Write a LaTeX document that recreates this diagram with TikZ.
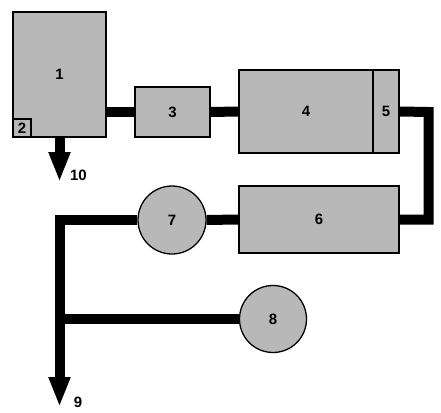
\documentclass[tikz,border=0pt]{standalone}
\usepackage{fontspec}
\setmainfont{Liberation Sans}
\usetikzlibrary{arrows.meta,backgrounds}
\begin{document}
\begin{tikzpicture}[x=1pt, y=-1pt, >={Triangle[length=30pt,width=20pt]},
	font=\fontsize{15}{17}\selectfont\bfseries, line join=miter,
	box/.style={draw, line width=1.3pt, fill=black!28, inner sep=0pt},
	tank/.style={box, circle},
	pipe/.style={line width=10pt, draw=black}]
	\def\xl{59.5} % vertical lines
	\def\xr{428.5}
	\useasboundingbox (0,0) rectangle (441,412);
	%\draw[gray!50] (0,0) grid[step=20pt] (441,412);
	\node[box, minimum width=93pt, minimum height=125pt] (b1) at (59.5,74.5) {1};
	\node[box, minimum width=18pt, minimum height=18pt] (b2) at (22,128) {2};
	\node[box, minimum width=75pt, minimum height=50pt] (b3) at (172.5,112) {3};
	\node[box, minimum width=134pt, minimum height=83pt] (b4) at (306,111.5) {4};
	\node[box, minimum width=26pt, minimum height=83pt] (b5) at (386,111.5) {5};
	\node[box, minimum width=160pt, minimum height=67pt] (b6) at (319,219.5) {6};
	\node[tank, minimum size=68pt] (c7) at (172,220) {7};
	\node[tank, minimum size=67pt] (c8) at (273,319) {8};
	\node (l10) at (78.5,175) {10};
	\node (l9) at (78,402) {9};
	\coordinate (out10) at (\xl,182);
	\coordinate (out9) at (\xl,407);
	\coordinate (bend) at (\xr,112);
	\coordinate (join) at (\xl,319);
	% pipes behind the boxes
	\begin{pgfonlayer}{background}
	\draw[pipe] (b3.west) -- (b3.west -| b1.east);
	\draw[pipe] (b3.east) -- (b4.west);
	\draw[pipe] (b5.east) -- (bend) |- (b6.east);
	\draw[pipe] (b6.west) -- (c7.east);
	\draw[pipe,->] (c7.west) -| (out9);
	\draw[pipe] (c8.west) -- (join);
	\draw[pipe,->] (b1.south) -- (out10);
	\end{pgfonlayer}
\end{tikzpicture}
\end{document}
